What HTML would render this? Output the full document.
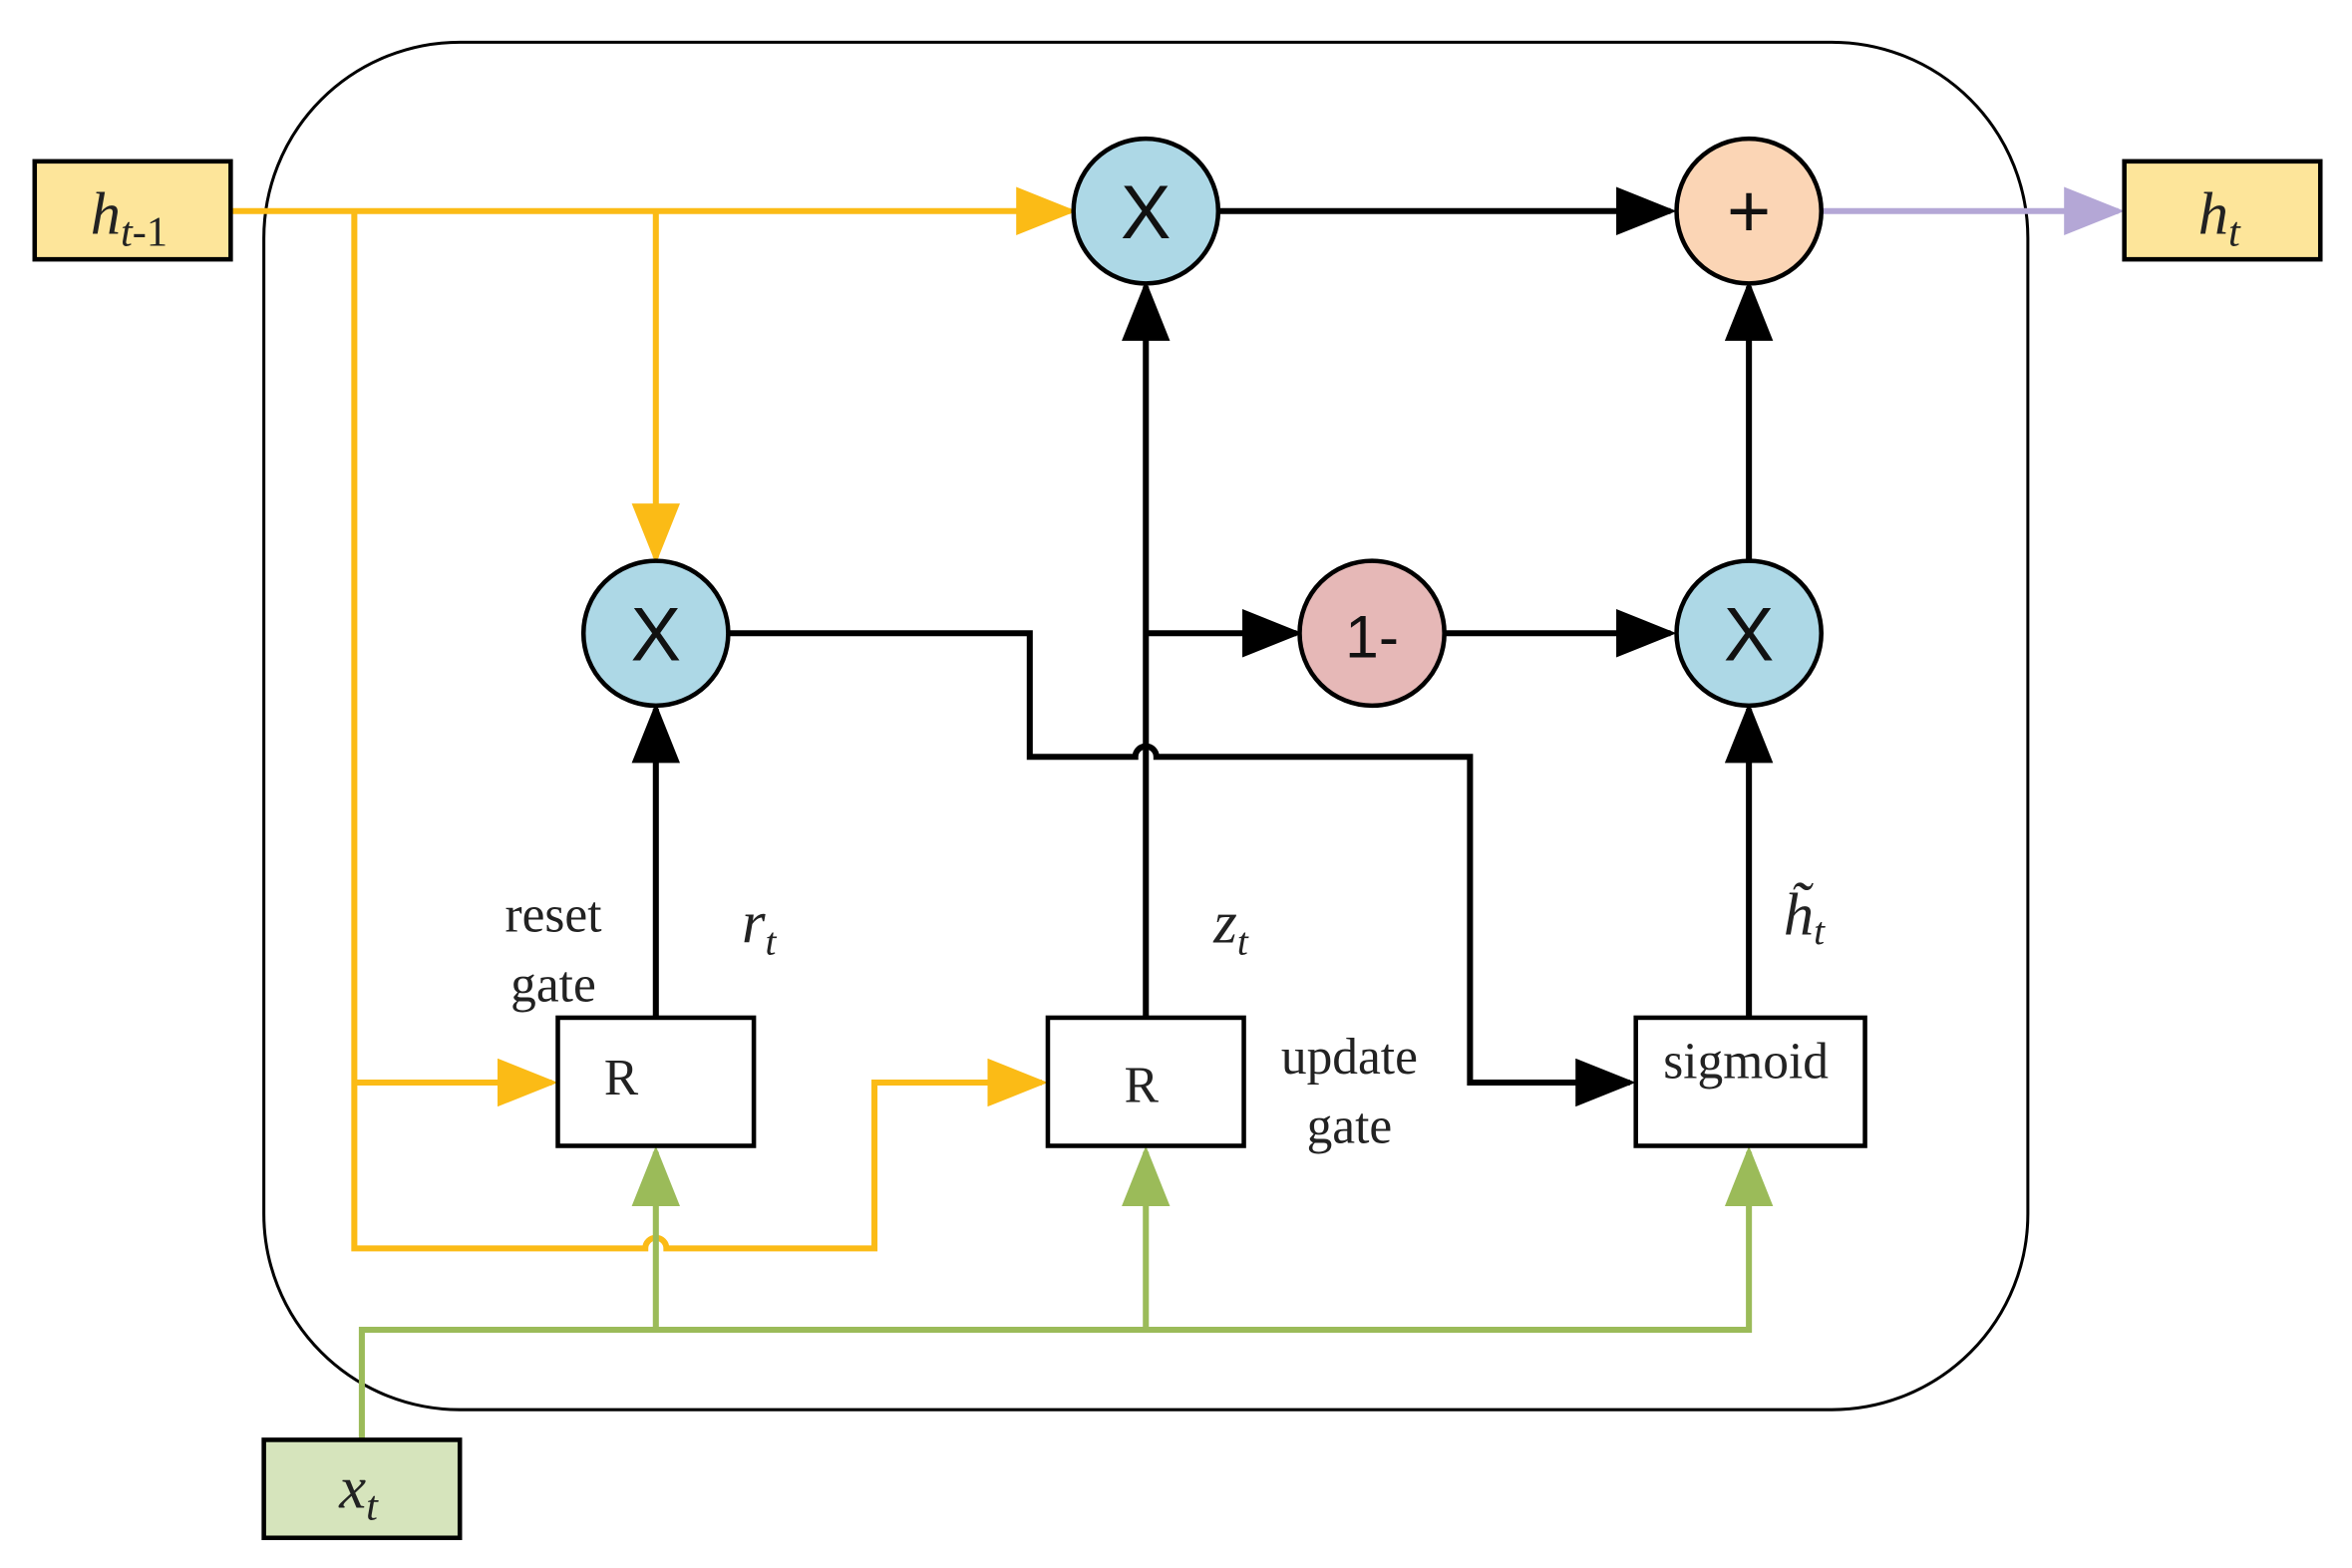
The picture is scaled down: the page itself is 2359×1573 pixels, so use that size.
<!DOCTYPE html>
<html><head><style>html,body{margin:0;padding:0;background:#fff}svg{display:block}</style></head><body>
<svg width="2359" height="1573" viewBox="0 0 1560 1040" preserveAspectRatio="none" xmlns="http://www.w3.org/2000/svg">
<defs>
<marker id="ab" markerWidth="10" markerHeight="8" refX="9" refY="4" orient="auto" markerUnits="strokeWidth"><path d="M0,0 L10,4 L0,8 z" fill="#000"/></marker>
<marker id="ay" markerWidth="10" markerHeight="8" refX="9" refY="4" orient="auto" markerUnits="strokeWidth"><path d="M0,0 L10,4 L0,8 z" fill="#fbbb16"/></marker>
<marker id="ag" markerWidth="10" markerHeight="8" refX="9" refY="4" orient="auto" markerUnits="strokeWidth"><path d="M0,0 L10,4 L0,8 z" fill="#9bbb59"/></marker>
<marker id="ap" markerWidth="10" markerHeight="8" refX="9" refY="4" orient="auto" markerUnits="strokeWidth"><path d="M0,0 L10,4 L0,8 z" fill="#b4a7d6"/></marker>
</defs>
<rect x="175" y="28" width="1170" height="907" rx="130" fill="none" stroke="#000" stroke-width="2"/>
<g fill="none" stroke="#fbbb16" stroke-width="4">
<path d="M153,140 H710" marker-end="url(#ay)"/>
<path d="M435,140 V370" marker-end="url(#ay)"/>
<path d="M235,140 V828 H428 a7,7 0 0 1 14,0 H580 V718 H691" marker-end="url(#ay)"/>
<path d="M235,718 H366" marker-end="url(#ay)"/>
</g>
<g fill="none" stroke="#9bbb59" stroke-width="4">
<path d="M240,955 V882 H1160 V764" marker-end="url(#ag)"/>
<path d="M435,882 V764" marker-end="url(#ag)"/>
<path d="M760,882 V764" marker-end="url(#ag)"/>
</g>
<path d="M1208,140 H1405" stroke="#b4a7d6" stroke-width="4" fill="none" marker-end="url(#ap)"/>
<g fill="none" stroke="#000" stroke-width="4">
<path d="M808,140 H1108" marker-end="url(#ab)"/>
<path d="M760,675 V190" marker-end="url(#ab)"/>
<path d="M760,420 H860" marker-end="url(#ab)"/>
<path d="M958,420 H1108" marker-end="url(#ab)"/>
<path d="M1160,372 V190" marker-end="url(#ab)"/>
<path d="M1160,675 V470" marker-end="url(#ab)"/>
<path d="M435,675 V470" marker-end="url(#ab)"/>
<path d="M483,420 H683 V502 H753 a7,7 0 0 1 14,0 H975 V718 H1081" marker-end="url(#ab)"/>
</g>
<g stroke="#000" stroke-width="3">
<circle cx="760" cy="140" r="48" fill="#add8e6"/>
<circle cx="1160" cy="140" r="48" fill="#fbd5b5"/>
<circle cx="435" cy="420" r="48" fill="#add8e6"/>
<circle cx="910" cy="420" r="48" fill="#e6b8b7"/>
<circle cx="1160" cy="420" r="48" fill="#add8e6"/>
<rect x="370" y="675" width="130" height="85" fill="#fff"/>
<rect x="695" y="675" width="130" height="85" fill="#fff"/>
<rect x="1085" y="675" width="152" height="85" fill="#fff"/>
<rect x="23" y="107" width="130" height="65" fill="#fde59a"/>
<rect x="1409" y="107" width="130" height="65" fill="#fde59a"/>
<rect x="175" y="955" width="130" height="65" fill="#d6e4bc"/>
</g>
<g font-family="Liberation Sans, sans-serif" font-size="50" text-anchor="middle" fill="#111">
<text x="760" y="158">X</text><text x="1160" y="157">+</text><text x="435" y="438">X</text>
<text x="910" y="436" font-size="40">1-</text><text x="1160" y="438">X</text>
</g>
<g font-family="Liberation Serif, serif" fill="#222" font-size="34">
<text x="412" y="726" text-anchor="middle">R</text>
<text x="757" y="731" text-anchor="middle">R</text>
<text x="1158" y="715" text-anchor="middle">sigmoid</text>
<text x="367" y="618" text-anchor="middle">reset</text>
<text x="367" y="664" text-anchor="middle">gate</text>
<text x="895" y="712" text-anchor="middle">update</text>
<text x="895" y="758" text-anchor="middle">gate</text>
<g font-style="italic" font-size="40">
<text x="492" y="625">r<tspan font-size="26" dy="8">t</tspan></text>
<text x="805" y="625">z<tspan font-size="26" dy="8">t</tspan></text>
<text x="1183" y="620">h̃<tspan font-size="26" dy="6">t</tspan></text>
<text x="60" y="155">h<tspan font-size="28" dy="8">t</tspan><tspan font-style="normal" font-size="28">-1</tspan></text>
<text x="1458" y="155">h<tspan font-size="28" dy="8">t</tspan></text>
<text x="225" y="1000">x<tspan font-size="28" dy="8">t</tspan></text>
</g>
</g>
</svg>
</body></html>
